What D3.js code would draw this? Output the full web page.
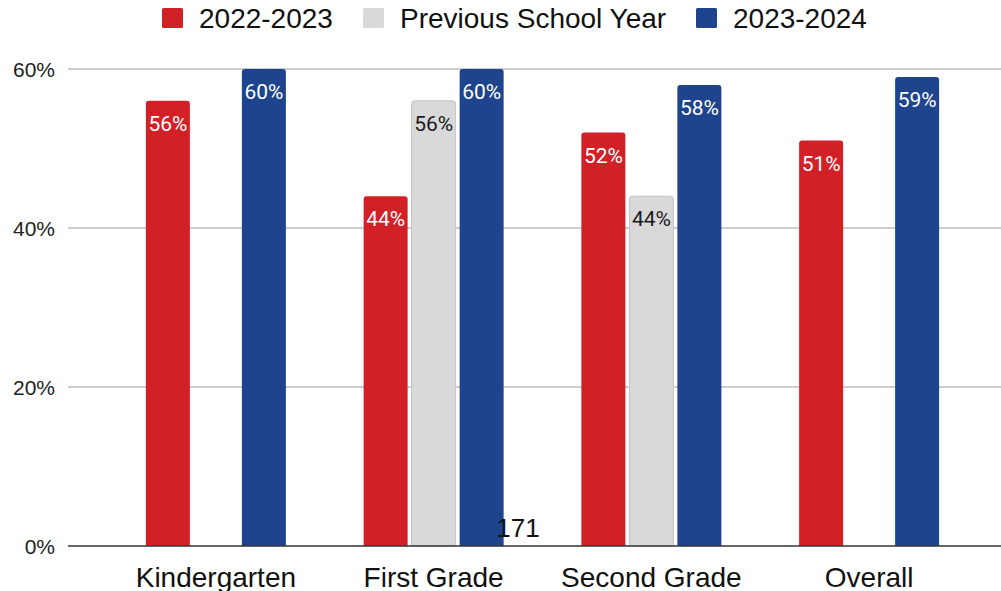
<!DOCTYPE html>
<html>
<head>
<meta charset="utf-8">
<script src="https://cdn.jsdelivr.net/npm/d3@7"></script>
<style>
  html, body { margin: 0; padding: 0; background: #fff; }
  svg { display: block; }
</style>
</head>
<body>
<svg id="chart" width="1001" height="591"></svg>
<script>
// Grade levels along the x axis
const categories = ["Kindergarten", "First Grade", "Second Grade", "Overall"];
// Series names, in legend order
const seriesNames = ["2022-2023", "Previous School Year", "2023-2024"];
// Percent values per series (null = no bar)
const values2022 = [56, 44, 52, 51];
const valuesPrevious = [null, 56, 44, null];
const values2023 = [60, 60, 58, 59];
// Y tick values (percent)
const yTicks = [0, 20, 40, 60];
// Stray note drawn on the chart
const noteText = "171";

const seriesValues = [values2022, valuesPrevious, values2023];
const colors = ["#d22027", "#d9d9d9", "#1d448c"];
const strokes = ["none", "#c4c4c4", "none"];
const labelColors = ["#ffffff", "#1a1a1a", "#ffffff"];

const svg = d3.select("#chart");
const W = 1001, H = 591;

const y = d3.scaleLinear().domain([0, 60]).range([546, 69]);
const x0 = d3.scaleBand().domain(categories).range([107, 978]).padding(0);
const x1 = d3.scaleBand().domain(seriesNames).range([-70, 70]).paddingInner(1 / 12).paddingOuter(0);

// Gridlines
const grid = svg.append("g");
grid.selectAll("line").data(yTicks.filter(d => d !== 0)).join("line")
  .attr("x1", 68).attr("x2", W)
  .attr("y1", d => y(d)).attr("y2", d => y(d))
  .attr("stroke", "#bdbdbd").attr("stroke-width", 1.6);

// Y axis labels
const yAxis = d3.axisLeft(y).tickValues(yTicks).tickFormat(d => d + "%").tickSize(0).tickPadding(0);
const yg = svg.append("g").attr("transform", "translate(55,0)").call(yAxis);
yg.select(".domain").remove();
yg.selectAll("text")
  .attr("font-family", "Liberation Sans, Arial, sans-serif")
  .attr("font-size", 21).attr("fill", "#222").attr("dy", "0.35em");

// Bars
const rows = [];
categories.forEach((c, i) => {
  seriesNames.forEach((s, j) => {
    const v = seriesValues[j][i];
    if (v !== null && v !== undefined) rows.push({ c, s, j, v });
  });
});

function topRoundedRect(x, yTop, w, h, r) {
  const yb = yTop + h;
  return `M${x},${yb}V${yTop + r}Q${x},${yTop} ${x + r},${yTop}H${x + w - r}Q${x + w},${yTop} ${x + w},${yTop + r}V${yb}Z`;
}

const bars = svg.append("g");
bars.selectAll("path").data(rows).join("path")
  .attr("d", d => {
    const bx = x0(d.c) + x0.bandwidth() / 2 + x1(d.s);
    return topRoundedRect(bx, y(d.v), x1.bandwidth(), y(0) - y(d.v), 3);
  })
  .attr("fill", d => colors[d.j])
  .attr("stroke", d => strokes[d.j])
  .attr("stroke-width", 1);

// Value labels inside bar tops
bars.selectAll("text").data(rows).join("text")
  .attr("x", d => x0(d.c) + x0.bandwidth() / 2 + x1(d.s) + x1.bandwidth() / 2)
  .attr("y", d => y(d.v) + 30)
  .attr("text-anchor", "middle")
  .attr("font-family", "Roboto, sans-serif")
  .attr("font-size", 21)
  .attr("fill", d => labelColors[d.j])
  .text(d => d.v + "%");

// Baseline
svg.append("line")
  .attr("x1", 68).attr("x2", W)
  .attr("y1", y(0)).attr("y2", y(0))
  .attr("stroke", "#333").attr("stroke-width", 1.6);

// Category labels
const xAxis = d3.axisBottom(x0).tickSize(0).tickPadding(0);
const xg = svg.append("g").call(xAxis);
xg.select(".domain").remove();
xg.selectAll("text")
  .attr("y", 587).attr("dy", null)
  .attr("font-family", "Liberation Sans, Arial, sans-serif")
  .attr("font-size", 28).attr("fill", "#111");

// Note
svg.append("text")
  .attr("x", 518).attr("y", 537)
  .attr("text-anchor", "middle")
  .attr("font-family", "Liberation Sans, Arial, sans-serif")
  .attr("font-size", 26).attr("fill", "#111")
  .text(noteText);

// Legend
const legendX = [162, 363, 696];
const legend = svg.append("g");
const li = legend.selectAll("g").data(seriesNames).join("g")
  .attr("transform", (d, i) => `translate(${legendX[i]},0)`);
li.append("rect").attr("x", 0).attr("y", 8).attr("width", 21).attr("height", 20).attr("rx", 1.5)
  .attr("fill", (d, i) => colors[i]);
li.append("text").attr("x", 37).attr("y", 28)
  .attr("font-family", "Liberation Sans, Arial, sans-serif")
  .attr("font-size", 28).attr("fill", "#111")
  .text(d => d);
</script>
</body>
</html>
